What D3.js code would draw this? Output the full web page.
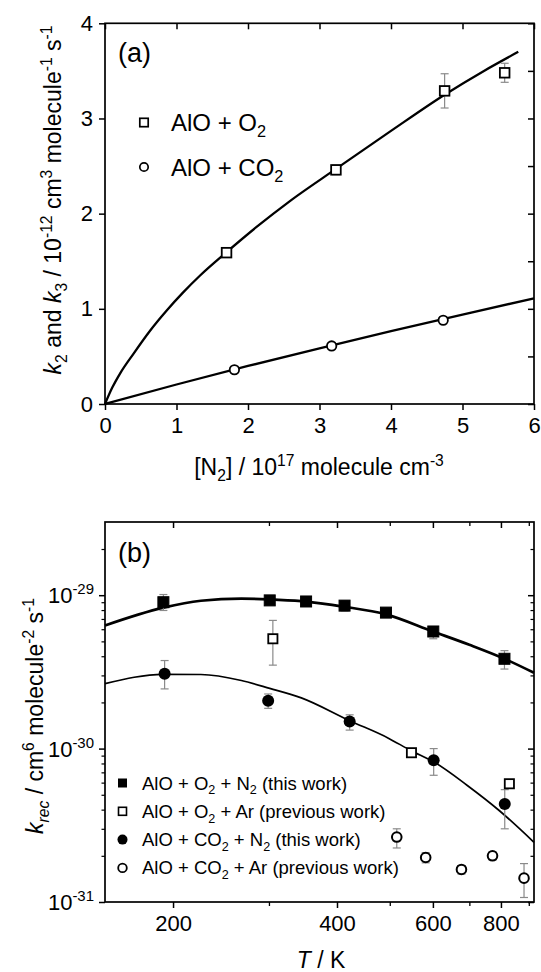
<!DOCTYPE html>
<html><head><meta charset="utf-8">
<script src="https://cdn.jsdelivr.net/npm/d3@7"></script>
<style>
body{margin:0;background:#fff;}
text{font-family:"Liberation Sans",Arial,Helvetica,sans-serif;fill:#000;white-space:pre;}
</style>
</head><body>
<svg id="chart" width="541" height="972" xmlns="http://www.w3.org/2000/svg"></svg>
<script>
// ---------------- Panel (a) data ----------------
const n2Ticks = [0, 1, 2, 3, 4, 5, 6];
const kTicks = [0, 1, 2, 3, 4];
const kRightTicks = [0, 0.5, 1, 1.5, 2, 2.5, 3, 3.5, 4];
const o2N2 = [1.70, 3.23, 4.75, 5.59];
const o2K = [1.59, 2.46, 3.29, 3.48];
const o2Err = [0.04, 0.05, 0.18, 0.10];
const co2N2 = [1.81, 3.17, 4.73];
const co2K = [0.36, 0.61, 0.88];
const o2FitN2 = [0, 0.1, 0.21, 0.4, 0.63, 0.86, 1.09, 1.33, 1.7, 2.12, 2.6, 3.23, 4.0, 4.75, 5.3, 5.78];
const o2FitK = [0, 0.17, 0.32, 0.53, 0.77, 0.98, 1.17, 1.35, 1.595, 1.86, 2.14, 2.47, 2.87, 3.25, 3.50, 3.70];
const co2FitN2 = [0, 1, 2, 3, 4, 5, 6];
const co2FitK = [0, 0.205, 0.40, 0.585, 0.765, 0.94, 1.11];

// ---------------- Panel (b) data ----------------
const tMajor = [200, 400, 600, 800];
const tMinor = [300, 500, 700, 900];
const kRecMajor = [1e-31, 1e-30, 1e-29];
const kRecMinor = [2e-31,3e-31,4e-31,5e-31,6e-31,7e-31,8e-31,9e-31,
                   2e-30,3e-30,4e-30,5e-30,6e-30,7e-30,8e-30,9e-30,2e-29];
const kRecLabels = ["-31", "-30", "-29"];

const o2N2T = [192, 301, 351, 413, 492, 601, 812];
const o2N2K = [9.0e-30, 9.25e-30, 9.1e-30, 8.55e-30, 7.7e-30, 5.8e-30, 3.85e-30];
const o2N2Lo = [7.95e-30, 8.9e-30, 8.8e-30, 7.9e-30, 7.4e-30, 5.2e-30, 3.3e-30];
const o2N2Hi = [1.01e-29, 9.6e-30, 9.4e-30, 9.2e-30, 8.0e-30, 6.2e-30, 4.35e-30];

const o2ArT = [305, 548, 829];
const o2ArK = [5.2e-30, 9.4e-31, 5.9e-31];
const o2ArLo = [3.5e-30, 9.4e-31, 5.9e-31];
const o2ArHi = [6.85e-30, 9.4e-31, 5.9e-31];

const co2N2T = [193, 299, 422, 602, 813];
const co2N2K = [3.07e-30, 2.05e-30, 1.5e-30, 8.4e-31, 4.35e-31];
const co2N2Lo = [2.45e-30, 1.83e-30, 1.32e-30, 6.7e-31, 3.0e-31];
const co2N2Hi = [3.75e-30, 2.27e-30, 1.66e-30, 1.0e-30, 5.4e-31];

const co2ArT = [515, 582, 677, 772, 882];
const co2ArK = [2.65e-31, 1.95e-31, 1.63e-31, 2.0e-31, 1.43e-31];
const co2ArLo = [2.25e-31, 1.8e-31, 1.52e-31, 1.88e-31, 1.07e-31];
const co2ArHi = [3.0e-31, 2.1e-31, 1.72e-31, 2.12e-31, 1.78e-31];

const fitO2T = [150, 192, 225, 267, 300, 344, 413, 492, 600, 700, 812, 920];
const fitO2K = [6.35e-30, 8.3e-30, 9.2e-30, 9.5e-30, 9.4e-30, 9.14e-30, 8.4e-30, 7.5e-30, 5.8e-30, 4.75e-30, 3.85e-30, 3.12e-30];
const fitCO2T = [150, 192, 225, 267, 301, 344, 422, 497, 547, 602, 694, 794, 920];
const fitCO2K = [2.65e-30, 3.05e-30, 3.04e-30, 2.78e-30, 2.47e-30, 2.14e-30, 1.52e-30, 1.17e-30, 9.7e-31, 8.2e-31, 5.75e-31, 3.95e-31, 2.45e-31];

// ---------------- helpers ----------------
const svg = d3.select("#chart");
svg.append("rect").attr("width", 541).attr("height", 972).attr("fill", "#fff");

function rich(sel, parts, size) {
  let shift = 0;
  parts.forEach(p => {
    const ts = sel.append("tspan").text(p.t);
    let target = 0;
    if (p.sup) target = -0.40 * size;
    else if (p.sub) target = 0.26 * size;
    ts.attr("dy", target - shift);
    shift = target;
    if (p.sup || p.sub) ts.attr("font-size", size * 0.68);
    if (p.i) ts.attr("font-style", "italic");
  });
  return sel;
}

function styleAxis(g, w) {
  g.select(".domain").remove();
  g.selectAll(".tick line").attr("stroke", "#000").attr("stroke-width", w);
  g.selectAll(".tick text").attr("fill", "#000")
    .attr("font-family", '"Liberation Sans",Arial,sans-serif');
}

// ================= Panel (a) =================
const xA = d3.scaleLinear().domain([0, 6]).range([105, 534]);
const yA = d3.scaleLinear().domain([0, 4]).range([404, 23.3]);

const gA = svg.append("g");
gA.append("g").attr("transform", "translate(0,404)")
  .call(d3.axisBottom(xA).tickValues(n2Ticks).tickSize(6).tickPadding(7).tickFormat(d3.format("d")))
  .call(g => styleAxis(g, 1.5)).attr("font-size", 22);
gA.append("g").attr("transform", "translate(105,0)")
  .call(d3.axisLeft(yA).tickValues(kTicks).tickSize(6).tickPadding(6).tickFormat(d3.format("d")))
  .call(g => styleAxis(g, 1.5)).attr("font-size", 22);
gA.append("g").attr("transform", "translate(0,23.3)")
  .call(d3.axisTop(xA).tickValues(n2Ticks).tickSize(-6).tickFormat(""))
  .call(g => styleAxis(g, 1.5));
gA.append("g").attr("transform", "translate(534,0)")
  .call(d3.axisRight(yA).tickValues(kRightTicks).tickSize(-6).tickFormat(""))
  .call(g => styleAxis(g, 1.5));
gA.append("rect").attr("x", xA(0)).attr("y", yA(4))
  .attr("width", xA(6) - xA(0)).attr("height", yA(0) - yA(4))
  .attr("fill", "none").attr("stroke", "#000").attr("stroke-width", 1.7);

const lineA = d3.line().x(d => xA(d[0])).y(d => yA(d[1])).curve(d3.curveMonotoneX);
gA.append("path").attr("d", lineA(o2FitN2.map((x, i) => [x, o2FitK[i]])))
  .attr("fill", "none").attr("stroke", "#000").attr("stroke-width", 2.3);
gA.append("path").attr("d", lineA(co2FitN2.map((x, i) => [x, co2FitK[i]])))
  .attr("fill", "none").attr("stroke", "#000").attr("stroke-width", 2.3);

// error bars (a)
o2N2.forEach((x, i) => {
  const cx = xA(x), y1 = yA(o2K[i] - o2Err[i]), y2 = yA(o2K[i] + o2Err[i]);
  const g = gA.append("g").attr("stroke", "#8a8a8a").attr("stroke-width", 1.2);
  g.append("line").attr("x1", cx).attr("x2", cx).attr("y1", y1).attr("y2", y2);
  g.append("line").attr("x1", cx - 4).attr("x2", cx + 4).attr("y1", y1).attr("y2", y1);
  g.append("line").attr("x1", cx - 4).attr("x2", cx + 4).attr("y1", y2).attr("y2", y2);
});
o2N2.forEach((x, i) => {
  gA.append("rect").attr("x", xA(x) - 4.8).attr("y", yA(o2K[i]) - 4.8)
    .attr("width", 9.6).attr("height", 9.6)
    .attr("fill", "#fff").attr("stroke", "#000").attr("stroke-width", 1.8);
});
co2N2.forEach((x, i) => {
  gA.append("circle").attr("cx", xA(x)).attr("cy", yA(co2K[i])).attr("r", 4.7)
    .attr("fill", "#fff").attr("stroke", "#000").attr("stroke-width", 1.8);
});

// labels (a)
gA.append("text").attr("x", 118).attr("y", 62).attr("font-size", 27).text("(a)");
// legend (a)
gA.append("rect").attr("x", 144 - 4.2).attr("y", 122.5 - 4.2).attr("width", 8.4).attr("height", 8.4)
  .attr("fill", "#fff").attr("stroke", "#000").attr("stroke-width", 1.7);
rich(gA.append("text").attr("x", 171).attr("y", 131).attr("font-size", 24),
  [{t: "AlO + O"}, {t: "2", sub: 1}], 24);
gA.append("circle").attr("cx", 144).attr("cy", 167).attr("r", 4.2)
  .attr("fill", "#fff").attr("stroke", "#000").attr("stroke-width", 1.7);
rich(gA.append("text").attr("x", 171).attr("y", 175.5).attr("font-size", 24),
  [{t: "AlO + CO"}, {t: "2", sub: 1}], 24);

// axis titles (a)
rich(gA.append("text").attr("x", 319).attr("y", 475).attr("text-anchor", "middle").attr("font-size", 23),
  [{t: "[N"}, {t: "2", sub: 1}, {t: "] / 10"}, {t: "17", sup: 1}, {t: " molecule cm"}, {t: "-3", sup: 1}], 23);
rich(gA.append("text").attr("transform", "translate(61,200) rotate(-90)").attr("text-anchor", "middle").attr("font-size", 23),
  [{t: "k", i: 1}, {t: "2", sub: 1}, {t: " and "}, {t: "k", i: 1}, {t: "3", sub: 1}, {t: " / 10"}, {t: "-12", sup: 1},
   {t: " cm"}, {t: "3", sup: 1}, {t: " molecule"}, {t: "-1", sup: 1}, {t: " s"}, {t: "-1", sup: 1}], 23);

// ================= Panel (b) =================
const L = 105, R = 534, T0 = 522, B0 = 902;
const xB = d3.scaleLog().domain([150, 920]).range([L, R]);
const yB = d3.scaleLog().domain([1e-31, 3e-29]).range([B0, T0]);
const gB = svg.append("g");

// bottom axis
gB.append("g").attr("transform", `translate(0,${B0})`)
  .call(d3.axisBottom(xB).tickValues(tMajor).tickSize(6).tickPadding(7).tickFormat(d3.format("d")))
  .call(g => styleAxis(g, 1.5)).attr("font-size", 22);
gB.append("g").attr("transform", `translate(0,${B0})`)
  .call(d3.axisBottom(xB).tickValues(tMinor).tickSize(4).tickFormat(""))
  .call(g => styleAxis(g, 1.3));
// top axis (inward)
gB.append("g").attr("transform", `translate(0,${T0})`)
  .call(d3.axisTop(xB).tickValues(tMajor).tickSize(-6).tickFormat(""))
  .call(g => styleAxis(g, 1.5));
gB.append("g").attr("transform", `translate(0,${T0})`)
  .call(d3.axisTop(xB).tickValues(tMinor).tickSize(-4).tickFormat(""))
  .call(g => styleAxis(g, 1.3));
// left axis
gB.append("g").attr("transform", `translate(${L},0)`)
  .call(d3.axisLeft(yB).tickValues(kRecMajor).tickSize(6).tickFormat(""))
  .call(g => styleAxis(g, 1.5));
gB.append("g").attr("transform", `translate(${L},0)`)
  .call(d3.axisLeft(yB).tickValues(kRecMinor).tickSize(3.5).tickFormat(""))
  .call(g => styleAxis(g, 1.2));
// right axis (inward)
gB.append("g").attr("transform", `translate(${R},0)`)
  .call(d3.axisRight(yB).tickValues(kRecMajor).tickSize(-6).tickFormat(""))
  .call(g => styleAxis(g, 1.5));
gB.append("g").attr("transform", `translate(${R},0)`)
  .call(d3.axisRight(yB).tickValues(kRecMinor).tickSize(-3.5).tickFormat(""))
  .call(g => styleAxis(g, 1.2));
// y tick labels with superscripts
kRecMajor.forEach((v, i) => {
  rich(gB.append("text").attr("x", 94).attr("y", yB(v) + 8).attr("text-anchor", "end").attr("font-size", 22),
    [{t: "10"}, {t: kRecLabels[i], sup: 1}], 22);
});
gB.append("rect").attr("x", L).attr("y", T0).attr("width", R - L).attr("height", B0 - T0)
  .attr("fill", "none").attr("stroke", "#000").attr("stroke-width", 1.7);

// fit curves
const lineB = d3.line().x(d => xB(d[0])).y(d => yB(d[1])).curve(d3.curveMonotoneX);
gB.append("path").attr("d", lineB(fitO2T.map((t, i) => [t, fitO2K[i]])))
  .attr("fill", "none").attr("stroke", "#000").attr("stroke-width", 2.7);
gB.append("path").attr("d", lineB(fitCO2T.map((t, i) => [t, fitCO2K[i]])))
  .attr("fill", "none").attr("stroke", "#000").attr("stroke-width", 1.7);

function errBars(T, lo, hi) {
  T.forEach((t, i) => {
    if (lo[i] === hi[i]) return;
    const cx = xB(t), y1 = yB(lo[i]), y2 = yB(hi[i]);
    const g = gB.append("g").attr("stroke", "#8a8a8a").attr("stroke-width", 1.2);
    g.append("line").attr("x1", cx).attr("x2", cx).attr("y1", y1).attr("y2", y2);
    g.append("line").attr("x1", cx - 4).attr("x2", cx + 4).attr("y1", y1).attr("y2", y1);
    g.append("line").attr("x1", cx - 4).attr("x2", cx + 4).attr("y1", y2).attr("y2", y2);
  });
}
errBars(o2N2T, o2N2Lo, o2N2Hi);
errBars(o2ArT, o2ArLo, o2ArHi);
errBars(co2N2T, co2N2Lo, co2N2Hi);
errBars(co2ArT, co2ArLo, co2ArHi);

o2N2T.forEach((t, i) => {
  gB.append("rect").attr("x", xB(t) - 5.5).attr("y", yB(o2N2K[i]) - 5.5).attr("width", 11).attr("height", 11)
    .attr("fill", "#000").attr("stroke", "#000").attr("stroke-width", 1);
});
o2ArT.forEach((t, i) => {
  gB.append("rect").attr("x", xB(t) - 4.6).attr("y", yB(o2ArK[i]) - 4.6).attr("width", 9.2).attr("height", 9.2)
    .attr("fill", "#fff").attr("stroke", "#000").attr("stroke-width", 1.8);
});
co2N2T.forEach((t, i) => {
  gB.append("circle").attr("cx", xB(t)).attr("cy", yB(co2N2K[i])).attr("r", 6)
    .attr("fill", "#000");
});
co2ArT.forEach((t, i) => {
  gB.append("circle").attr("cx", xB(t)).attr("cy", yB(co2ArK[i])).attr("r", 4.8)
    .attr("fill", "#fff").attr("stroke", "#000").attr("stroke-width", 2);
});

// panel label
gB.append("text").attr("x", 118).attr("y", 562).attr("font-size", 27).text("(b)");

// legend (b)
const legRows = [783, 811.3, 839.6, 867.9];
const legLabels = [
  [{t: "AlO + O"}, {t: "2", sub: 1}, {t: " + N"}, {t: "2", sub: 1}, {t: " (this work)"}],
  [{t: "AlO + O"}, {t: "2", sub: 1}, {t: " + Ar (previous work)"}],
  [{t: "AlO + CO"}, {t: "2", sub: 1}, {t: " + N"}, {t: "2", sub: 1}, {t: " (this work)"}],
  [{t: "AlO + CO"}, {t: "2", sub: 1}, {t: " + Ar (previous work)"}]
];
const mx = 122.5;
gB.append("rect").attr("x", mx - 4.5).attr("y", legRows[0] - 4.5).attr("width", 9).attr("height", 9).attr("fill", "#000");
gB.append("rect").attr("x", mx - 4).attr("y", legRows[1] - 4).attr("width", 8).attr("height", 8)
  .attr("fill", "#fff").attr("stroke", "#000").attr("stroke-width", 1.6);
gB.append("circle").attr("cx", mx).attr("cy", legRows[2]).attr("r", 5).attr("fill", "#000");
gB.append("circle").attr("cx", mx).attr("cy", legRows[3]).attr("r", 4.3)
  .attr("fill", "#fff").attr("stroke", "#000").attr("stroke-width", 1.8);
legLabels.forEach((parts, i) => {
  rich(gB.append("text").attr("x", 142).attr("y", legRows[i] + 6.5).attr("font-size", 18.5), parts, 18.5);
});

// axis titles (b)
rich(gB.append("text").attr("x", 321).attr("y", 968).attr("text-anchor", "middle").attr("font-size", 23),
  [{t: "T", i: 1}, {t: " / K"}], 23);
rich(gB.append("text").attr("transform", "translate(43,716) rotate(-90)").attr("text-anchor", "middle").attr("font-size", 23),
  [{t: "k", i: 1}, {t: "rec", sub: 1, i: 1}, {t: " / cm"}, {t: "6", sup: 1}, {t: " molecule"}, {t: "-2", sup: 1},
   {t: " s"}, {t: "-1", sup: 1}], 23);
</script>
</body></html>
